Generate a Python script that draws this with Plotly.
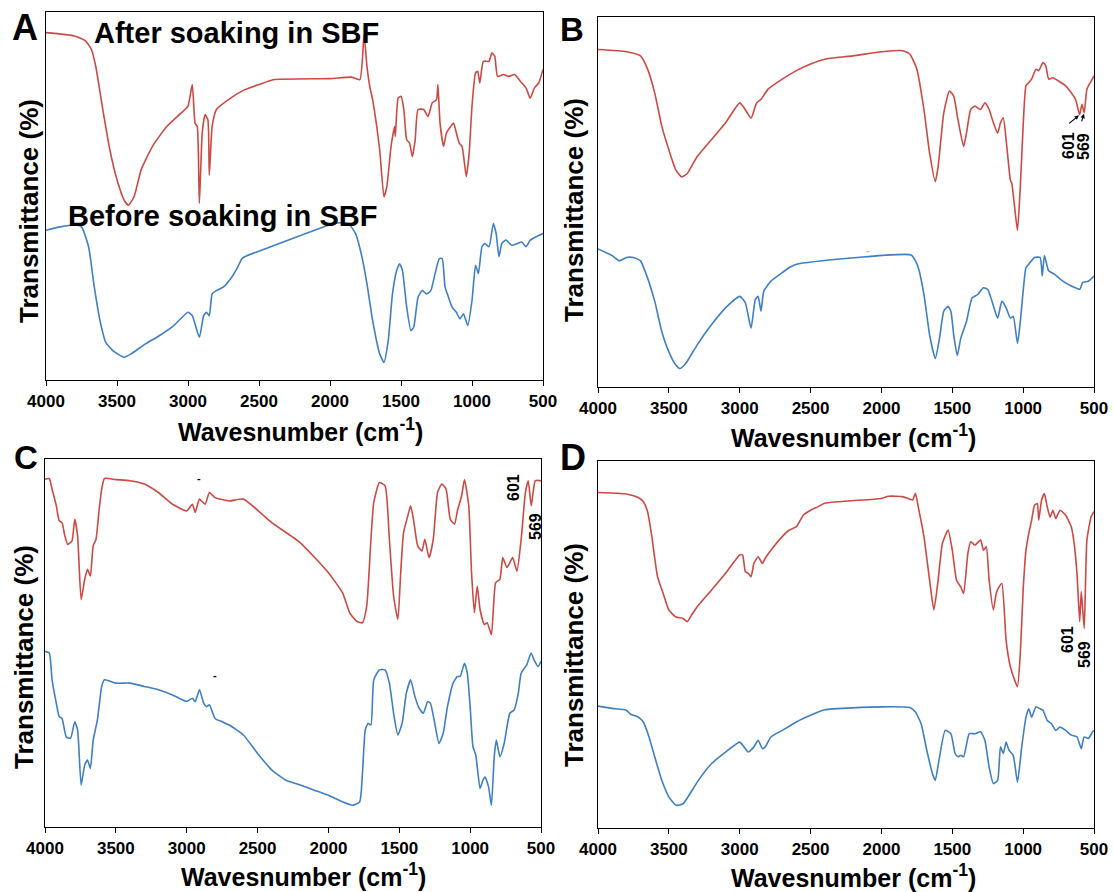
import plotly.graph_objects as go

W, H = 1113, 892
RED = "#cc4a44"
BLUE = "#3f7fc2"
FONT = "Liberation Sans, Arial, sans-serif"

x_ticks = [4000, 3500, 3000, 2500, 2000, 1500, 1000, 500]
x_tick_labels = ["4000", "3500", "3000", "2500", "2000", "1500", "1000", "500"]

# ---------------- Panel A ----------------
A_after_wn = [4000,3800,3720,3680,3650,3600,3550,3500,3450,3420,3380,3330,3250,3150,3050,3000,2970,2950,2935,2920,2900,2880,2860,2850,2830,2800,2700,2600,2500,2400,2000,1850,1790,1760,1740,1720,1700,1650,1620,1600,1570,1545,1540,1520,1500,1480,1460,1440,1420,1400,1380,1340,1310,1280,1250,1240,1225,1200,1180,1150,1130,1110,1090,1070,1040,1020,1000,975,960,945,920,880,860,840,820,780,740,700,660,620,590,560,530,500]
A_after_T = [94.4,93.5,92.1,89.8,85.3,73.5,62.5,54.4,48.9,47.5,49.8,57.1,63.5,68.9,72.5,74.4,80.3,69.8,68.9,48.0,67.1,72.1,70.7,55.7,68.9,73.5,76.6,78.9,80.3,81.6,81.9,82.3,81.6,93.9,85.3,79.8,76.2,62.5,49.8,52.5,63.5,68.9,66.2,76.6,77.1,73.5,65.3,64.4,60.7,65.3,73.5,73.5,71.6,75.3,76.2,80.3,69.8,63.5,67.1,68.9,69.8,67.1,64.4,63.5,55.3,61.6,74.4,83.5,83.9,80.7,86.6,86.6,88.9,88.0,82.5,83.0,82.5,83.0,81.2,79.4,76.6,79.4,80.7,84.4]
A_before_wn = [4000,3900,3800,3750,3700,3660,3620,3580,3530,3450,3400,3300,3200,3100,3000,2970,2920,2890,2870,2850,2830,2800,2750,2700,2650,2620,2600,2000,1950,1870,1820,1780,1740,1700,1650,1620,1590,1560,1530,1510,1490,1460,1430,1410,1380,1350,1320,1290,1260,1230,1210,1190,1170,1140,1110,1085,1060,1030,1000,975,955,930,910,880,850,830,810,790,760,720,680,650,620,590,550,500]
A_before_T = [40.7,41.6,42.1,41.6,36.2,25.3,16.2,10.3,8.0,6.2,7.1,9.8,12.1,14.8,18.4,17.5,11.6,17.5,18.4,17.5,23.4,24.3,25.3,27.5,30.7,33.0,33.5,42.2,42.7,42.5,39.8,34.3,26.2,16.2,7.1,4.8,10.7,23.4,29.8,31.6,29.8,19.8,13.4,14.4,22.5,24.3,23.4,24.3,28.9,33.0,33.0,25.3,23.0,19.8,18.4,16.6,18.0,14.8,21.6,31.2,28.9,36.2,37.1,36.2,42.5,39.8,33.5,37.1,38.0,36.6,37.1,37.5,36.2,38.0,38.9,39.8]

# ---------------- Panel B ----------------
B_after_wn = [4000,3800,3700,3650,3600,3550,3500,3450,3410,3370,3300,3200,3100,3000,2970,2920,2880,2850,2800,2700,2600,2500,2400,2200,2000,1850,1800,1750,1700,1660,1620,1600,1560,1520,1490,1460,1420,1400,1370,1340,1300,1270,1240,1210,1180,1160,1140,1120,1090,1080,1060,1040,1020,1000,980,960,940,910,890,860,840,820,790,750,700,660,630,601,585,569,550,520,500]
B_after_T = [91.2,90.6,89.5,85.9,79.5,70.5,64.1,58.6,56.8,57.7,62.3,66.8,71.4,76.8,75.5,72.7,76.8,77.7,80.5,83.2,85.5,87.3,88.6,89.5,90.6,90.9,90.0,85.9,75.0,63.2,55.5,59.5,74.1,80.0,78.6,72.3,65.0,68.6,75.0,75.9,75.0,76.8,75.0,71.4,68.6,71.4,72.7,66.8,55.9,55.0,48.6,42.3,54.1,70.5,81.4,82.3,83.2,85.9,85.5,87.7,86.8,83.2,83.6,82.7,81.4,79.5,77.7,73.6,76.4,74.1,80.5,82.7,84.1]
B_before_wn = [4000,3900,3850,3800,3750,3700,3660,3600,3550,3500,3450,3420,3380,3300,3200,3100,3000,2960,2920,2890,2870,2850,2830,2780,2700,2650,2600,1790,1760,1740,1700,1660,1620,1590,1560,1530,1510,1490,1465,1440,1400,1360,1320,1280,1250,1220,1180,1150,1120,1090,1070,1040,1020,1000,980,960,920,880,865,850,820,780,720,660,600,580,540,500]
B_before_T = [37.3,35.5,34.1,35.0,35.0,34.1,30.5,23.2,15.0,9.5,5.9,5.0,6.4,11.4,16.8,21.4,24.5,22.7,15.9,23.6,24.5,20.5,25.9,28.6,30.9,32.3,33.2,35.7,34.1,32.3,25.0,14.1,7.7,13.2,20.5,21.8,20.5,14.1,8.5,13.2,17.7,24.1,25.0,26.8,26.4,23.2,18.6,23.2,21.4,18.6,19.1,11.8,17.7,25.9,32.3,33.2,35.0,35.0,30.0,35.5,31.4,30.5,28.6,27.3,26.4,28.2,28.6,30.0]

# ---------------- Panel C ----------------
C_after_wn = [4000,3970,3950,3920,3900,3880,3860,3840,3810,3790,3770,3745,3720,3700,3680,3660,3640,3620,3600,3580,3500,3400,3300,3200,3100,3000,2960,2940,2910,2870,2840,2800,2700,2600,2400,2200,2000,1900,1850,1800,1760,1730,1700,1680,1640,1600,1570,1540,1510,1490,1470,1440,1420,1400,1370,1340,1320,1290,1260,1230,1200,1170,1140,1110,1090,1060,1040,1010,990,970,950,930,900,880,850,820,790,770,740,700,670,640,610,590,569,540,500]
C_after_T = [94.5,94.7,91.8,87.3,83.2,82.7,79.1,76.8,77.7,83.6,79.1,61.8,67.3,70.0,68.2,76.4,78.2,85.5,91.8,94.7,94.4,94.1,93.2,90.9,87.7,85.9,87.7,85.5,89.1,87.7,90.9,89.5,88.6,89.1,82.7,77.3,69.1,63.6,58.2,55.9,55.5,60.0,78.2,88.2,93.6,92.7,78.2,62.7,56.4,69.1,80.0,84.5,87.3,83.6,76.4,75.0,78.2,73.2,78.2,90.9,93.2,91.8,83.6,82.3,85.9,90.0,94.4,87.3,69.1,58.2,65.5,59.1,55.0,55.5,52.3,66.4,67.3,73.2,70.5,73.2,69.5,78.2,90.9,94.1,87.3,94.1,94.1]
C_before_wn = [4000,3970,3950,3920,3900,3880,3850,3820,3790,3770,3745,3720,3700,3680,3660,3630,3600,3580,3500,3400,3300,3200,3100,3000,2960,2940,2910,2880,2860,2840,2800,2750,2700,2600,2500,2400,2300,2200,2100,2000,1900,1830,1780,1760,1740,1720,1700,1680,1640,1600,1570,1540,1510,1480,1450,1420,1390,1360,1330,1300,1280,1250,1220,1190,1160,1120,1090,1070,1040,1020,1000,980,960,930,910,895,870,850,830,815,790,760,720,690,660,640,600,570,550,520,500]
C_before_T = [47.7,47.3,40.0,33.6,30.0,29.5,24.5,24.1,28.6,26.4,11.4,16.8,18.2,15.9,23.6,29.1,38.2,40.0,39.1,39.1,38.2,37.3,35.9,34.1,35.0,34.1,37.3,33.6,32.7,33.2,29.5,28.6,27.7,25.0,20.0,15.5,12.7,11.4,10.0,8.6,6.8,5.9,6.8,14.5,26.4,28.2,27.7,40.0,42.7,42.7,39.1,30.9,25.0,28.2,36.4,40.0,35.5,32.3,30.9,34.1,33.6,28.2,22.7,25.5,32.7,39.1,40.9,40.9,44.5,41.8,32.7,21.8,19.5,10.5,12.7,13.6,10.9,5.9,19.1,23.6,19.1,22.7,30.9,31.8,36.4,41.8,44.1,47.3,45.5,43.6,45.0]

# ---------------- Panel D ----------------
D_after_wn = [4000,3800,3720,3680,3650,3620,3580,3540,3500,3450,3400,3370,3340,3300,3200,3100,3000,2980,2960,2940,2920,2900,2870,2840,2820,2780,2700,2650,2600,2550,2500,2450,2400,2000,1950,1850,1780,1760,1740,1700,1660,1630,1600,1570,1530,1500,1470,1440,1420,1390,1370,1340,1300,1280,1260,1240,1210,1190,1170,1150,1120,1090,1060,1040,1020,1000,980,960,940,920,900,890,870,850,830,810,790,770,740,700,660,640,620,601,590,569,550,520,500]
D_after_T = [91.4,91.0,90.1,88.9,86.2,79.4,68.5,63.9,59.4,57.5,57.1,56.2,58.0,60.3,64.8,69.4,74.4,74.4,69.8,69.4,68.5,72.1,73.9,72.1,73.5,75.7,79.4,81.2,82.1,85.3,86.6,87.5,88.5,89.8,90.4,90.3,89.4,91.2,87.5,79.4,67.5,59.4,67.5,77.5,81.2,75.7,67.5,65.7,63.9,74.8,78.0,77.1,78.5,75.7,76.6,67.5,59.4,63.9,65.7,66.6,51.0,43.9,40.3,38.5,47.5,64.8,75.7,80.3,83.9,87.9,88.4,83.9,89.3,91.1,87.5,84.7,86.6,84.3,86.6,85.2,82.0,77.5,69.3,56.2,64.4,54.4,78.5,84.8,86.2]
D_before_wn = [4000,3900,3800,3770,3720,3680,3640,3600,3550,3500,3450,3400,3350,3300,3200,3100,3000,2970,2940,2900,2870,2840,2820,2780,2700,2600,2500,2400,2000,1800,1760,1720,1680,1640,1620,1590,1550,1510,1480,1460,1440,1420,1380,1340,1300,1270,1240,1210,1180,1160,1140,1120,1100,1070,1040,1010,980,960,940,910,880,860,830,800,770,740,700,660,620,590,570,540,510,500]
D_before_T = [33.2,32.6,32.1,31.0,30.3,28.9,24.8,19.4,13.0,8.5,6.2,6.6,9.4,12.5,17.5,20.7,23.4,22.1,20.7,22.1,23.9,21.6,22.1,24.8,26.6,28.9,30.7,32.2,33.0,32.8,31.6,28.4,21.2,14.8,13.0,19.4,26.6,25.7,20.3,19.4,19.8,19.4,25.7,25.7,26.2,23.9,16.6,12.1,13.0,22.1,20.3,23.4,21.2,19.8,12.5,22.1,30.2,32.5,30.2,33.0,32.5,32.1,29.3,28.4,26.6,27.5,26.6,25.3,24.8,21.6,24.8,24.4,26.2,26.6]

panel_letters = ["A", "B", "C", "D"]
y_title = "Transmittance (%)"
x_title = "Wavesnumber (cm<sup>-1</sup>)"
peak_labels = ["601", "569"]

# layout geometry (pixel boxes of each plot area: left, right, top, bottom)
boxes = {
    "A": (46, 543, 12, 380),
    "B": (598, 1094, 17, 387),
    "C": (45, 541, 459, 827),
    "D": (598, 1094, 461, 828),
}

def px(x):
    return x / W

def py(y):
    return 1 - y / H

series = {
    "A": [(A_after_wn, A_after_T, RED), (A_before_wn, A_before_T, BLUE)],
    "B": [(B_after_wn, B_after_T, RED), (B_before_wn, B_before_T, BLUE)],
    "C": [(C_after_wn, C_after_T, RED), (C_before_wn, C_before_T, BLUE)],
    "D": [(D_after_wn, D_after_T, RED), (D_before_wn, D_before_T, BLUE)],
}

fig = go.Figure()
layout_axes = {}
for i, key in enumerate(panel_letters):
    n = "" if i == 0 else str(i + 1)
    xa, ya = "x" + n, "y" + n
    for wn, T, col in series[key]:
        assert len(wn) == len(T), (key, len(wn), len(T))
        fig.add_trace(go.Scatter(x=wn, y=T, mode="lines", xaxis=xa, yaxis=ya,
                                 line=dict(color=col, width=1.6, shape="spline", smoothing=0.5),
                                 showlegend=False, hoverinfo="skip"))
    l, r, t, b = boxes[key]
    layout_axes["xaxis" + n] = dict(
        domain=[px(l), px(r)], range=[4000, 500], anchor=ya, automargin=False,
        tickvals=x_ticks, ticktext=x_tick_labels, ticks="outside", ticklen=5,
        tickwidth=1.3, tickcolor="black", showline=True, linecolor="black",
        linewidth=1.4, mirror=True, showgrid=False, zeroline=False,
        tickfont=dict(family=FONT, size=17, color="black", weight="bold"),
    )
    layout_axes["yaxis" + n] = dict(
        domain=[py(b), py(t)], range=[0, 100], anchor=xa, automargin=False,
        showticklabels=False, ticks="", showline=True, linecolor="black",
        linewidth=1.4, mirror=True, showgrid=False, zeroline=False,
    )

fig.update_layout(**layout_axes)

ann = []
bold = lambda s: dict(family=FONT, size=s, color="black", weight="bold")

# panel letters
for key, (x, y, s) in {"A": (25, 27, 36), "B": (572, 30, 33),
                       "C": (26, 457, 33), "D": (573, 457, 36)}.items():
    ann.append(dict(text=key, x=px(x), y=py(y), xref="paper", yref="paper",
                    showarrow=False, font=bold(s), xanchor="center", yanchor="middle"))

# axis titles
for (x, y) in [(300, 430), (853, 436), (303, 875), (853, 876)]:
    ann.append(dict(text=x_title, x=px(x), y=py(y), xref="paper", yref="paper",
                    showarrow=False, font=bold(25), xanchor="center", yanchor="middle"))
for (x, y) in [(29, 211), (574, 210), (24, 657), (574, 655)]:
    ann.append(dict(text=y_title, x=px(x), y=py(y), xref="paper", yref="paper",
                    showarrow=False, font=bold(26), textangle=-90,
                    xanchor="center", yanchor="middle"))

# SBF labels in panel A
ann.append(dict(text="After soaking in SBF", x=px(236), y=py(33), xref="paper", yref="paper",
                showarrow=False, font=bold(29), xanchor="center", yanchor="middle"))
ann.append(dict(text="Before soaking in SBF", x=px(222), y=py(216), xref="paper", yref="paper",
                showarrow=False, font=bold(29), xanchor="center", yanchor="middle"))

# peak labels (rotated)
for (x1, y1, x2, y2) in [(1068, 146, 1084, 147), (513, 488, 535, 527), (1067, 640, 1084, 655)]:
    ann.append(dict(text=peak_labels[0], x=px(x1), y=py(y1), xref="paper", yref="paper",
                    showarrow=False, font=bold(16), textangle=-90,
                    xanchor="center", yanchor="middle"))
    ann.append(dict(text=peak_labels[1], x=px(x2), y=py(y2), xref="paper", yref="paper",
                    showarrow=False, font=bold(16), textangle=-90,
                    xanchor="center", yanchor="middle"))

# small stray dash marks visible in the original figure
for (x, y, c) in [(199, 478, "black"), (215, 675, "black"), (868, 250, "#bbbbbb")]:
    ann.append(dict(text="-", x=px(x), y=py(y), xref="paper", yref="paper",
                    showarrow=False, font=dict(family=FONT, size=11, color=c, weight="bold"),
                    xanchor="center", yanchor="middle"))

# arrows in panel B pointing to the 601 / 569 bands
for wn_pk, T_pk, ax, ay in [(601, 73.6, -12, 10), (569, 74.1, -3, 10)]:
    ann.append(dict(text="", x=wn_pk, y=T_pk, xref="x2", yref="y2", ax=ax, ay=ay,
                    showarrow=True, arrowhead=2, arrowsize=0.8, arrowwidth=1.1,
                    arrowcolor="black", standoff=1))

fig.update_layout(
    width=W, height=H, margin=dict(l=0, r=0, t=0, b=0, autoexpand=False),
    paper_bgcolor="white", plot_bgcolor="white",
    annotations=ann,
)

fig.write_html("out.html")
